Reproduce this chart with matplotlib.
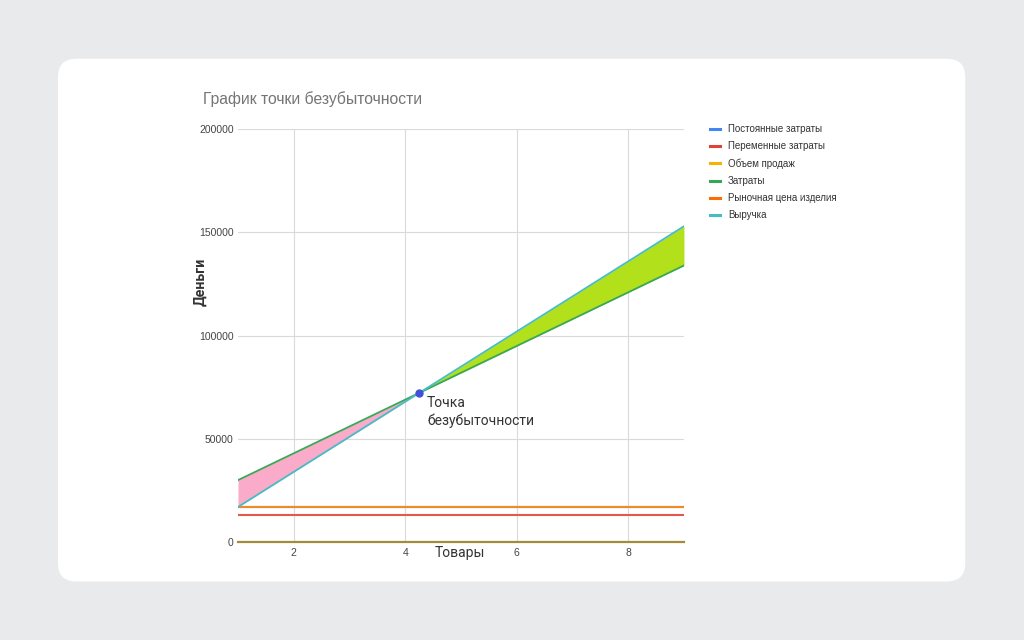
import numpy as np
import matplotlib.pyplot as plt
from matplotlib.patches import FancyBboxPatch

# data
units = [1, 2, 3, 4, 5, 6, 7, 8, 9]
fixed_costs = [17000] * 9
variable_costs = [13000] * 9
sales_volume = [0] * 9
market_price = [17000] * 9
total_costs = [30000, 43000, 56000, 69000, 82000, 95000, 108000, 121000, 134000]
revenue = [17000, 34000, 51000, 68000, 85000, 102000, 119000, 136000, 153000]
break_even_x = 4.25
break_even_y = 72250

series_names = ['Постоянные затраты', 'Переменные затраты', 'Объем продаж',
                'Затраты', 'Рыночная цена изделия', 'Выручка']
series_colors = ['#4285f4', '#db4437', '#f4b400', '#34a853', '#ff6d01', '#46bdc6']

plt.rcParams['font.family'] = ['Liberation Sans', 'DejaVu Sans']
note_font = ['Roboto', 'DejaVu Sans']

fig = plt.figure(figsize=(10.24, 6.4), dpi=100)
fig.patch.set_facecolor('#e9eaec')

# white card behind the chart
card = FancyBboxPatch((0.0566 + 0.012, 0.0906 + 0.02), 0.886 - 0.024, 0.8184 - 0.04,
                      boxstyle='round,pad=0.012,rounding_size=0.018',
                      transform=fig.transFigure, facecolor='white',
                      edgecolor='none', mutation_aspect=1.6, zorder=-5)
fig.patches.append(card)

ax = fig.add_axes([0.2324, 0.153, 0.4355, 0.645])
ax.set_zorder(2)
ax.patch.set_alpha(0)
ax.set_xlim(1, 9)
ax.set_ylim(0, 200000)

x = np.array(units)
c = np.array(total_costs)
r = np.array(revenue)

ax.fill_between(x, c, r, where=c >= r, interpolate=True, color='#f9abc9', lw=0)
ax.fill_between(x, c, r, where=r >= c, interpolate=True, color='#b2e11c', lw=0)

ax.plot(x, fixed_costs, color=series_colors[0], lw=1.5)
ax.plot(x, market_price, color='#f08a24', lw=1.5)
ax.plot(x, variable_costs, color='#de5a4e', lw=1.5)
ax.plot(x, sales_volume, color='#a38b3b', lw=1.6, clip_on=False, zorder=4)
ax.plot(x, total_costs, color='#3aa757', lw=1.3)
ax.plot(x, revenue, color='#46bdc6', lw=1.3)

ax.plot(break_even_x, break_even_y, 'o', color='#3f51d6', ms=5, zorder=5)
ax.text(break_even_x + 0.14, break_even_y - 1600, 'Точка\nбезубыточности',
        fontsize=10, color='#333333', family=note_font,
        va='top', linespacing=1.3)

ax.set_xticks([2, 4, 6, 8])
ax.set_yticks([0, 50000, 100000, 150000, 200000])
ax.set_yticklabels(['0', '50000', '100000', '150000', '200000'])
ax.tick_params(length=0, labelsize=7.5, colors='#444444', pad=4)
ax.tick_params(axis='y', pad=3)
ax.grid(True, color='#dadada', lw=0.8)
ax.set_axisbelow(True)
for s in ax.spines.values():
    s.set_visible(False)

ax.text(-0.085, 0.63, 'Деньги', transform=ax.transAxes, rotation=90,
        fontsize=10.3, color='#333333', family=note_font, fontweight='bold',
        ha='center', va='center')
ax.text(0.497, -0.026, 'Товары', transform=ax.transAxes,
        fontsize=10, color='#333333', family=note_font,
        ha='center', va='center')

fig.text(0.198, 0.845, 'График точки безубыточности', fontsize=11.3,
         color='#757575', va='center')

# legend
for i, (name, col) in enumerate(zip(series_names, series_colors)):
    yy = 1 - (129 + i * 17.2) / 640
    fig.add_artist(plt.Line2D([710 / 1024, 720 / 1024], [yy, yy],
                              color=col, lw=2.2, transform=fig.transFigure))
    fig.text(728 / 1024, yy, name, fontsize=7, color='#333333', va='center')

fig.savefig('out.png', dpi=100, facecolor=fig.get_facecolor())
